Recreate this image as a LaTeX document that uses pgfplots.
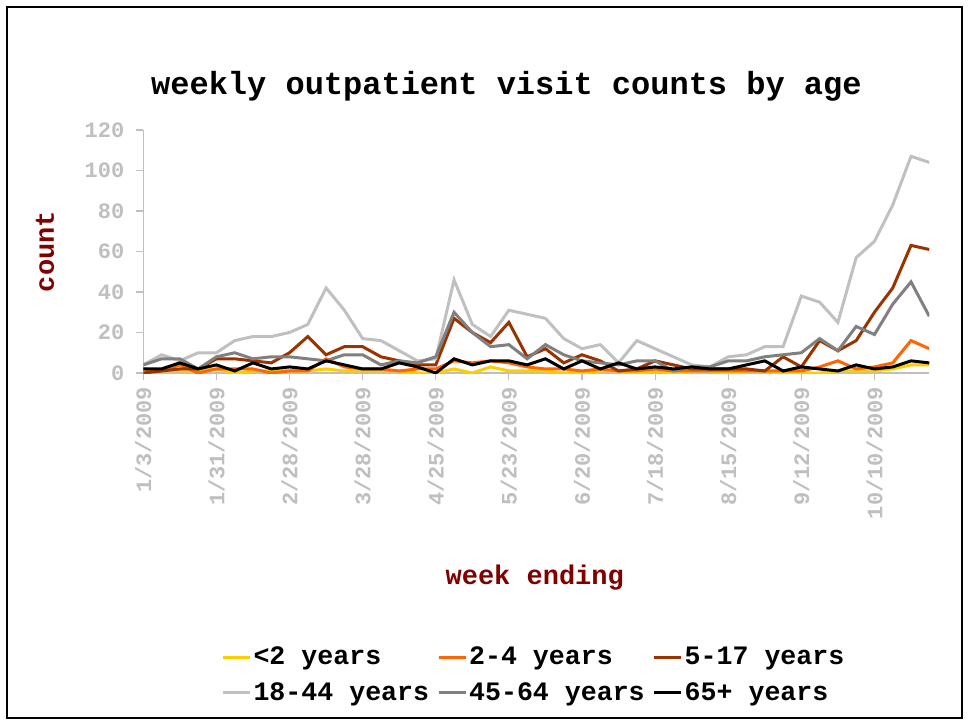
\documentclass[border=0pt]{standalone}
\usepackage{fontspec}
\setmainfont{Liberation Mono}
\usepackage{pgfplots}
\usepackage{pgfplotstable}
\pgfplotsset{compat=1.18}

\definecolor{cLtTwo}{HTML}{FFCC00}
\definecolor{cTwoFour}{HTML}{FF6600}
\definecolor{cFiveSeventeen}{HTML}{993300}
\definecolor{cEighteen}{HTML}{C0C0C0}
\definecolor{cFortyFive}{HTML}{808080}
\definecolor{cSixtyFive}{HTML}{000000}
\definecolor{labelred}{HTML}{800000}
\definecolor{tickgray}{HTML}{BFBFBF}

% weekly counts, week 0 = 1/3/2009
\pgfplotstableread{
week lt2 a24 a517 a1844 a4564 a65
0  0 2  0   4  4 2
1  1 1  1   9  7 2
2  1 4  2   6  7 5
3  1 0  2  10  2 2
4  2 2  7  10  8 4
5  0 2  7  16 10 1
6  1 2  6  18  7 5
7  1 0  5  18  8 2
8  1 1 10  20  8 3
9  1 1 18  24  7 2
10 2 7  9  42  6 6
11 1 3 13  31  9 4
12 1 2 13  17  9 2
13 1 2  8  16  4 2
14 1 1  6  11  6 5
15 0 2  4   6  5 3
16 0 2  4   7  8 0
17 2 6 27  46 30 7
18 0 5 20  24 20 4
19 3 6 15  18 13 6
20 1 5 25  31 14 6
21 1 3  8  29  7 4
22 1 2 12  27 14 7
23 0 2  5  17  9 2
24 0 1  9  12  6 6
25 1 2  6  14  5 2
26 1 1  1   5  4 5
27 0 1  2  16  6 2
28 1 2  6  12  6 3
29 0 1  4   8  1 2
30 1 1  2   4  3 3
31 1 1  2   3  3 2
32 0 1  2   8  6 2
33 1 1  2   9  6 4
34 1 1  1  13  8 6
35 0 1  8  13  9 1
36 0 1  3  38 10 3
37 0 3 16  35 17 2
38 1 6 11  25 11 1
39 1 2 16  57 23 4
40 1 3 30  65 19 2
41 2 5 42  83 34 3
42 4 16 63 107 45 6
43 4 12 61 104 28 5
}\visits

\begin{document}
\begin{tikzpicture}
\path[use as bounding box] (0pt,0pt) rectangle (484.5pt,361.5pt);
\draw[line width=1pt] (3.5pt,2.5pt) rectangle (481pt,358pt);
\begin{axis}[
  at={(71.65pt,175pt)}, anchor=south west,
  scale only axis,
  width=393pt, height=121.5pt,
  xmin=0, xmax=43, ymin=0, ymax=120,
  axis x line*=bottom, axis y line*=left,
  axis line style={tickgray, line width=0.6pt},
  tick style={tickgray, line width=0.6pt},
  tick align=outside, major tick length=3.5pt,
  xtick={0,4,...,40},
  xticklabels={1/3/2009,1/31/2009,2/28/2009,3/28/2009,4/25/2009,5/23/2009,6/20/2009,7/18/2009,8/15/2009,9/12/2009,10/10/2009},
  ytick={0,20,...,120},
  /pgf/number format/assume math mode=true,
  ticklabel style={font=\fontsize{11}{13}\selectfont\bfseries, text=tickgray},
  xticklabel style={rotate=90, anchor=east},
  yticklabel style={xshift=-2.5pt},
  title={weekly outpatient visit counts by age},
  title style={font=\fontsize{16}{19}\selectfont\bfseries, at={(axis description cs:0.462,1.132)}, anchor=center},
  xlabel={week ending},
  ylabel={count},
  label style={font=\fontsize{13.5}{16}\selectfont\bfseries, text=labelred},
  xlabel style={at={(axis description cs:0.498,-0.84)}, anchor=center},
  ylabel style={at={(axis description cs:-0.125,0.5)}, anchor=center, rotate=0},
  legend columns=3,
  legend cell align=left,
  legend image code/.code={\draw[#1, line width=1.5pt] (0pt,0pt) -- (13.5pt,0pt);},
  legend style={draw=none, fill=none, at={(axis description cs:0.497,-1.243)}, anchor=center,
    font=\fontsize{13.3}{15}\selectfont\bfseries,
    nodes={inner xsep=1pt},
    /tikz/every even column/.append style={column sep=3pt}, row sep=3.5pt},
  every axis plot/.append style={line width=1.5pt, mark=none, line join=miter},
]
\addplot[cLtTwo] table[x=week, y=lt2] {\visits};
\addlegendentry{<2 years}
\addplot[cTwoFour] table[x=week, y=a24] {\visits};
\addlegendentry{2-4 years}
\addplot[cFiveSeventeen] table[x=week, y=a517] {\visits};
\addlegendentry{5-17 years}
\addplot[cEighteen] table[x=week, y=a1844] {\visits};
\addlegendentry{18-44 years}
\addplot[cFortyFive] table[x=week, y=a4564] {\visits};
\addlegendentry{45-64 years}
\addplot[cSixtyFive] table[x=week, y=a65] {\visits};
\addlegendentry{65+ years}
\end{axis}
\end{tikzpicture}
\end{document}
